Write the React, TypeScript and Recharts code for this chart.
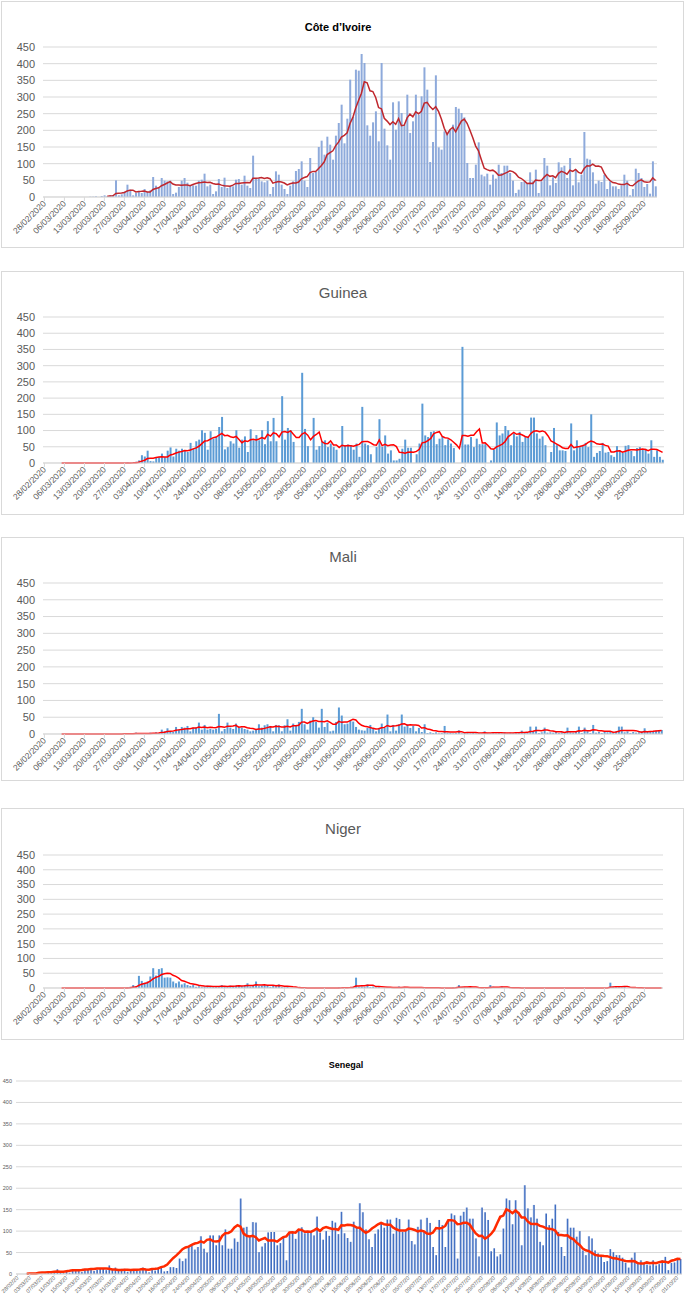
import React from "react";
import { ComposedChart, Bar, Line, XAxis, YAxis, CartesianGrid } from "recharts";

// daily new cases, one value per day starting 28/02/2020 (null = not reported yet)
const civCases = [
  null, null, null, null, null, null, null, null, null, null, null, null, null, null, null, null,
  1, 1, 2, 0, 3, 5, 3, 6, 6,
  50, 5, 8, 16, 37, 22, 5, 12, 15, 12,
  24, 15, 20, 60, 34, 27, 57, 49, 47, 49,
  9, 13, 30, 49, 57, 43, 34, 35, 34, 49,
  52, 70, 32, 37, 9, 17, 54, 30, 58, 27,
  32, 32, 52, 54, 37, 64, 34, 27, 124, 56,
  56, 47, 44, 49, 9, 30, 77, 67, 37, 24,
  9, 34, 47, 78, 84, 107, 49, 30, 117, 72,
  75, 150, 169, 127, 181, 157, 112, 184, 222, 277,
  161, 235, 352,
  240, 382, 379, 429, 402, 215, 184, 224, 257, 167,
  402, 205, 155, 112, 284, 202, 287, 252, 217, 307,
  192, 227, 307, 247, 302, 389, 322, 105, 165, 365,
  149, 142, 197, 192, 202, 217, 270, 265, 252, 239,
  102, 57, 57, 97, 164, 67, 62, 70, 37, 67,
  55, 97, 72, 94, 94, 72, 49, 12, 22, 45,
  47, 39, 74, 47, 82, 12, 47, 117, 94, 35,
  59, 42, 104, 89, 94, 57, 117, 35, 82, 44,
  67, 195, 115, 112, 74, 40, 49, 45, 67, 24,
  47, 32, 32, 24, 35, 67, 49, 5, 24, 85,
  72, 57, 30, 39, 10, 107, 32,
];

const guineaCases = [
  0, 0, 0, 0, 0, 0, 0, 0, 0, 0, 0, 0, 0, 0, 0, 0, 0, 0, 0, 0, 0, 0, 0, 0, 0, 0, 0, 0, 0,
  2, 0, 2, 4,
  8, 24, 20, 38, 6, 5, 18, 18, 29, 18,
  38, 48, 20, 44, 38, 44, 38, 34, 62, 44,
  67, 72, 101, 93, 41, 98, 75, 80, 111, 142,
  42, 49, 67, 60, 101, 47, 72, 82, 34, 104,
  70, 86, 70, 101, 58, 129, 67, 139, 67, 0,
  206, 72, 108, 101, 65, 0, 0, 278, 105, 52,
  0, 139, 41, 52, 67, 70, 49, 60, 49, 41, 0,
  114, 55, 57, 55, 41, 60, 19, 173, 60, 55,
  27, 0, 49, 135, 50, 85, 29, 39, 8, 8,
  13, 44, 72, 47, 47, 0, 27, 60, 183, 85,
  80, 96, 98, 58, 75, 82, 55, 73, 60, 46,
  0, 0, 358, 57, 57, 80, 49, 75, 58, 58,
  58, 0, 8, 41, 125, 85, 91, 114, 101, 55,
  91, 82, 96, 65, 82, 82, 140, 140, 91, 75,
  82, 55, 0, 34, 108, 55, 39, 39, 37, 0,
  122, 39, 70, 49, 55, 62, 49, 150, 19, 31,
  37, 62, 32, 34, 24, 19, 52, 39, 31, 53,
  55, 37, 21, 46, 49, 40, 44, 29, 70, 19,
  39, 19, 10,
];

const maliCases = [
  0, 0, 0, 0, 0, 0, 0, 0, 0, 0, 0, 0, 0, 0, 0, 0, 0, 0, 0, 0, 0, 0, 0, 0, 0, 0, 0, 0,
  3, 0, 2, 0, 4, 0, 3, 0, 2, 4, 2, 5,
  3, 13, 8, 17, 8, 6, 21, 13, 21, 19,
  24, 8, 19, 19, 34, 13, 27, 13, 15, 13,
  15, 60, 8, 15, 34, 19, 15, 31, 19, 19,
  15, 13, 8, 10, 12, 29, 19, 26, 29, 24,
  8, 27, 26, 8, 26, 44, 10, 31, 26, 36,
  75, 29, 13, 40, 50, 36, 19, 75, 21, 34,
  8, 10, 36, 79, 55, 29, 31, 40, 37, 21,
  13, 11, 10, 18, 27, 18, 8, 18, 31, 18,
  58, 8, 27, 10, 29, 58, 22, 29, 18, 24,
  8, 18, 6, 29, 3, 5, 3, 5, 2, 3,
  24, 4, 3, 2, 3, 11, 2, 3, 6, 2,
  3, 2, 3, 2, 8, 3, 2, 4, 2, 3,
  2, 5, 2, 4, 3, 5, 3, 10, 4, 5,
  22, 8, 22, 3, 5, 19, 4, 5, 4, 6,
  3, 5, 4, 19, 5, 4, 8, 22, 3, 19,
  8, 3, 27, 4, 6, 3, 8, 5, 6, 4,
  8, 22, 22, 5, 8, 3, 6, 4, 5, 8,
  17, 6, 8, 9, 10, 12, 12,
];

const nigerCases = [
  0, 0, 0, 0, 0, 0, 0, 0, 0, 0, 0, 0, 0, 0, 0, 0, 0, 0, 0, 0, 0, 0, 0, 0, 0, 0, 0, 0, 0,
  2, 4, 10, 6, 41, 24, 18, 22, 39, 67,
  42, 64, 67, 35, 36, 35, 22, 16, 22, 12,
  16, 10, 7, 10, 4, 6, 3, 5, 8, 4,
  3, 6, 5, 10, 4, 6, 8, 5, 8, 10,
  6, 8, 16, 5, 9, 22, 6, 8, 10, 7,
  4, 10, 6, 12, 3, 2, 4, 0, 0, 0,
  0, 0, 0, 0, 0, 0, 0, 0, 0, 0,
  0, 0, 0, 0, 2, 1, 3, 2, 1, 4,
  35, 3, 5, 4, 12, 3, 5, 2, 3, 0,
  0, 4, 3, 0, 0, 5, 0, 4, 3, 0,
  0, 2, 0, 3, 0, 0, 2, 0, 0, 0,
  0, 0, 0, 0, 2, 3, 10, 4, 3, 2,
  3, 0, 0, 0, 0, 2, 0, 10, 4, 3,
  0, 5, 0, 0, 0, 0, 0, 0, 0, 0,
  0, 0, 0, 0, 0, 0, 0, 0, 0, 0,
  0, 0, 0, 0, 0, 0, 0, 0, 0, 0,
  0, 0, 0, 0, 0, 0, 0, 0, 0, 18,
  4, 5, 3, 2, 4, 0, 0, 0, 0, 0,
  0, 0, 0, 0, 0, 0, 0, 0,
];

const senegalCases = [
  null, null, null,
  1, 0, 2, 0, 1, 0, 1, 3, 2, 3,
  11, 3, 2, 5, 3, 8, 7, 8, 5, 10,
  11, 12, 7, 10, 12, 12, 9, 20, 12, 15,
  10, 12, 12, 5, 8, 10, 10, 8, 15, 12,
  4, 12, 8, 15, 17, 6, 7, 16, 16, 14,
  36, 30, 36, 63, 67, 57, 63, 88, 59, 50,
  90, 90, 67, 90, 67, 104, 59, 59, 83, 75,
  176, 108, 110, 86, 121, 120, 51, 64, 72, 97,
  98, 98, 67, 72, 84, 32, 95, 97, 82, 104,
  109, 95, 97, 97, 90, 134, 96, 80, 100, 89,
  124, 120, 93, 145, 95, 84, 75, 122, 108,
  165, 144, 104, 81, 63, 94, 104, 120, 108, 127,
  127, 94, 131, 128, 98, 100, 127, 77, 69, 110,
  127, 100, 131, 119, 63, 44, 126, 114, 63, 126,
  141, 137, 36, 136, 145, 155, 129, 129, 83, 41,
  155, 144, 126, 53, 60, 41, 46, 106, 176, 172,
  116, 172, 145, 67, 207, 153, 132, 161, 129, 75,
  67, 141, 114, 129, 162, 98, 63, 42, 129, 108,
  108, 87, 100, 55, 44, 88, 83, 55, 48, 42,
  28, 30, 58, 51, 44, 44, 38, 26, 15, 38,
  50, 28, 32, 23, 22, 20, 32, 20, 23, 32,
  40, 9, 26, 27, 36, 35,
];

const yTicks = [0, 50, 100, 150, 200, 250, 300, 350, 400, 450];

const weekTicks = [
  "28/02/2020", "06/03/2020", "13/03/2020", "20/03/2020", "27/03/2020", "03/04/2020",
  "10/04/2020", "17/04/2020", "24/04/2020", "01/05/2020", "08/05/2020", "15/05/2020",
  "22/05/2020", "29/05/2020", "05/06/2020", "12/06/2020", "19/06/2020", "26/06/2020",
  "03/07/2020", "10/07/2020", "17/07/2020", "24/07/2020", "31/07/2020", "07/08/2020",
  "14/08/2020", "21/08/2020", "28/08/2020", "04/09/2020", "11/09/2020", "18/09/2020",
  "25/09/2020",
];

const senegalTicks = [
  "28/02/20", "03/03/20", "07/03/20", "11/03/20", "15/03/20", "19/03/20", "23/03/20",
  "27/03/20", "31/03/20", "04/04/20", "08/04/20", "12/04/20", "16/04/20", "20/04/20",
  "24/04/20", "28/04/20", "02/05/20", "06/05/20", "10/05/20", "14/05/20", "18/05/20",
  "22/05/20", "26/05/20", "30/05/20", "03/06/20", "07/06/20", "11/06/20", "15/06/20",
  "19/06/20", "23/06/20", "27/06/20", "01/07/20", "05/07/20", "09/07/20", "13/07/20",
  "17/07/20", "21/07/20", "25/07/20", "29/07/20", "02/08/20", "06/08/20", "10/08/20",
  "14/08/20", "18/08/20", "22/08/20", "26/08/20", "30/08/20", "03/09/20", "07/09/20",
  "11/09/20", "15/09/20", "19/09/20", "23/09/20", "27/09/20", "01/10/20",
];

const START = Date.UTC(2020, 1, 28);

function dayLabel(i: number, shortYear: boolean) {
  const d = new Date(START + i * 86400000);
  const dd = String(d.getUTCDate()).padStart(2, "0");
  const mm = String(d.getUTCMonth() + 1).padStart(2, "0");
  return `${dd}/${mm}/${shortYear ? "20" : "2020"}`;
}

// 7-day moving average (Excel trendline) over the previous week
function trailingMean(v: (number | null)[], n = 7) {
  return v.map((_, i) => {
    if (i < n - 1) return null;
    const w = v.slice(i - n + 1, i + 1);
    if (w.some((x) => x == null)) return null;
    return w.reduce((a: number, b) => a + (b as number), 0) / n;
  });
}

// Senegal's sheet runs newest-first, so its average looks one week ahead
function leadingMean(v: (number | null)[], n = 7) {
  return v.map((x, i) => {
    if (x == null) return null;
    const w = v.slice(i, i + n).filter((y) => y != null) as number[];
    return w.reduce((a, b) => a + b, 0) / w.length;
  });
}

function makeRows(cases: (number | null)[], avg: (number | null)[], shortYear: boolean) {
  return cases.map((c, i) => ({ date: dayLabel(i, shortYear), cases: c, avg: avg[i] }));
}

const FONT = "'Liberation Sans', Arial, sans-serif";

function DateTick(props: any) {
  const { x, y, payload, fontSize } = props;
  return (
    <g transform={`translate(${x},${y})`}>
      <text x={0} y={0} dy={fontSize * 0.35} textAnchor="end" fill="#595959" fontSize={fontSize} fontFamily={FONT} transform="rotate(-45)">
        {payload.value}
      </text>
    </g>
  );
}

interface PanelProps {
  top: number;
  height: number;
  rows: any[];
  ticks: string[];
  margin: { top: number; right: number; bottom: number; left: number };
  yWidth: number;
  xHeight: number;
  yFont: number;
  xFont: number;
  barFill: string;
  lineColor: string;
  lineWidth: number;
  gap: string;
  tickSize: number;
}

function Panel(p: PanelProps) {
  return (
    <div style={{ position: "absolute", left: 0, top: p.top }}>
      <ComposedChart width={685} height={p.height} data={p.rows} margin={p.margin} barCategoryGap={p.gap}>
        <defs>
          <linearGradient id="senBar" x1="0" y1="0" x2="1" y2="0">
            <stop offset="0%" stopColor="#b9cbee" />
            <stop offset="55%" stopColor="#4472c4" />
            <stop offset="100%" stopColor="#3b66b8" />
          </linearGradient>
        </defs>
        <CartesianGrid vertical={false} stroke="#d9d9d9" />
        <XAxis
          dataKey="date"
          ticks={p.ticks}
          interval={0}
          height={p.xHeight}
          tickSize={p.tickSize}
          tickMargin={1}
          axisLine={{ stroke: "#d9d9d9" }}
          tickLine={{ stroke: "#d9d9d9" }}
          tick={(t: any) => <DateTick {...t} fontSize={p.xFont} />}
        />
        <YAxis
          domain={[0, 450]}
          ticks={yTicks}
          width={p.yWidth}
          axisLine={false}
          tickLine={false}
          tickSize={4}
          tickMargin={p.yFont > 8 ? 4 : 0}
          tick={{ fill: "#595959", fontSize: p.yFont, fontFamily: FONT }}
          interval={0}
        />
        <Bar dataKey="cases" fill={p.barFill} isAnimationActive={false} />
        <Line
          dataKey="avg"
          type="linear"
          stroke={p.lineColor}
          strokeWidth={p.lineWidth}
          dot={false}
          activeDot={false}
          isAnimationActive={false}
        />
      </ComposedChart>
    </div>
  );
}

function Box({ top, height }: { top: number; height: number }) {
  return (
    <div
      style={{
        position: "absolute",
        left: 1,
        top,
        width: 683,
        height,
        border: "1px solid #d9d9d9",
        boxSizing: "border-box",
      }}
    />
  );
}

function Title({ text, cx, cy, size, bold, color }: { text: string; cx: number; cy: number; size: number; bold?: boolean; color: string }) {
  return (
    <div
      style={{
        position: "absolute",
        left: cx - 200,
        width: 400,
        top: cy - size * 0.6,
        textAlign: "center",
        fontSize: size,
        lineHeight: `${size * 1.2}px`,
        fontWeight: bold ? 700 : 400,
        color,
        fontFamily: FONT,
      }}
    >
      {text}
    </div>
  );
}

export default function App() {
  const civRows = makeRows(civCases, trailingMean(civCases), false);
  const guineaRows = makeRows(guineaCases, trailingMean(guineaCases), false);
  const maliRows = makeRows(maliCases, trailingMean(maliCases), false);
  const nigerRows = makeRows(nigerCases, trailingMean(nigerCases), false);
  const senegalRows = makeRows(senegalCases, leadingMean(senegalCases), true);

  const common = { yFont: 11, xFont: 8.5, tickSize: 4, gap: "22%" };

  return (
    <div style={{ position: "absolute", left: 0, top: 0, width: 685, height: 1298, background: "#fff", overflow: "hidden" }}>
      <Box top={1} height={247} />
      <Box top={271} height={244} />
      <Box top={537} height={244} />
      <Box top={808} height={232} />

      <Panel
        {...common}
        top={0}
        height={250}
        rows={civRows}
        ticks={weekTicks}
        margin={{ top: 47, right: 28, bottom: 3, left: 0 }}
        yWidth={43}
        xHeight={50}
        barFill="#8eaadb"
        lineColor="#c0272d"
        lineWidth={1.5}
      />
      <Title text="Côte d’Ivoire" cx={338} cy={28} size={11} bold color="#000" />

      <Panel
        {...common}
        top={270}
        height={250}
        rows={guineaRows}
        ticks={weekTicks}
        margin={{ top: 47, right: 21, bottom: 7, left: 0 }}
        yWidth={43}
        xHeight={50}
        barFill="#5b9bd5"
        lineColor="#ff0000"
        lineWidth={1.5}
      />
      <Title text="Guinea" cx={343} cy={293} size={15} color="#595959" />

      <Panel
        {...common}
        top={536}
        height={250}
        rows={maliRows}
        ticks={weekTicks}
        margin={{ top: 47, right: 22, bottom: 2, left: 0 }}
        yWidth={43}
        xHeight={50}
        barFill="#5b9bd5"
        lineColor="#ff0000"
        lineWidth={1.5}
      />
      <Title text="Mali" cx={343} cy={557} size={15} color="#595959" />

      <Panel
        {...common}
        top={808}
        height={240}
        rows={nigerRows}
        ticks={weekTicks}
        margin={{ top: 47, right: 22, bottom: 10, left: 0 }}
        yWidth={43}
        xHeight={50}
        barFill="#5b9bd5"
        lineColor="#ff0000"
        lineWidth={1.5}
      />
      <Title text="Niger" cx={343} cy={829} size={15} color="#595959" />

      <Panel
        top={1040}
        height={258}
        rows={senegalRows}
        ticks={senegalTicks}
        margin={{ top: 41, right: 3, bottom: 0, left: 0 }}
        yWidth={16}
        xHeight={24}
        yFont={5.5}
        xFont={5.5}
        tickSize={2}
        gap="15%"
        barFill="url(#senBar)"
        lineColor="#ff2a00"
        lineWidth={2.5}
      />
      <Title text="Senegal" cx={346} cy={1065} size={9} bold color="#000" />
    </div>
  );
}
